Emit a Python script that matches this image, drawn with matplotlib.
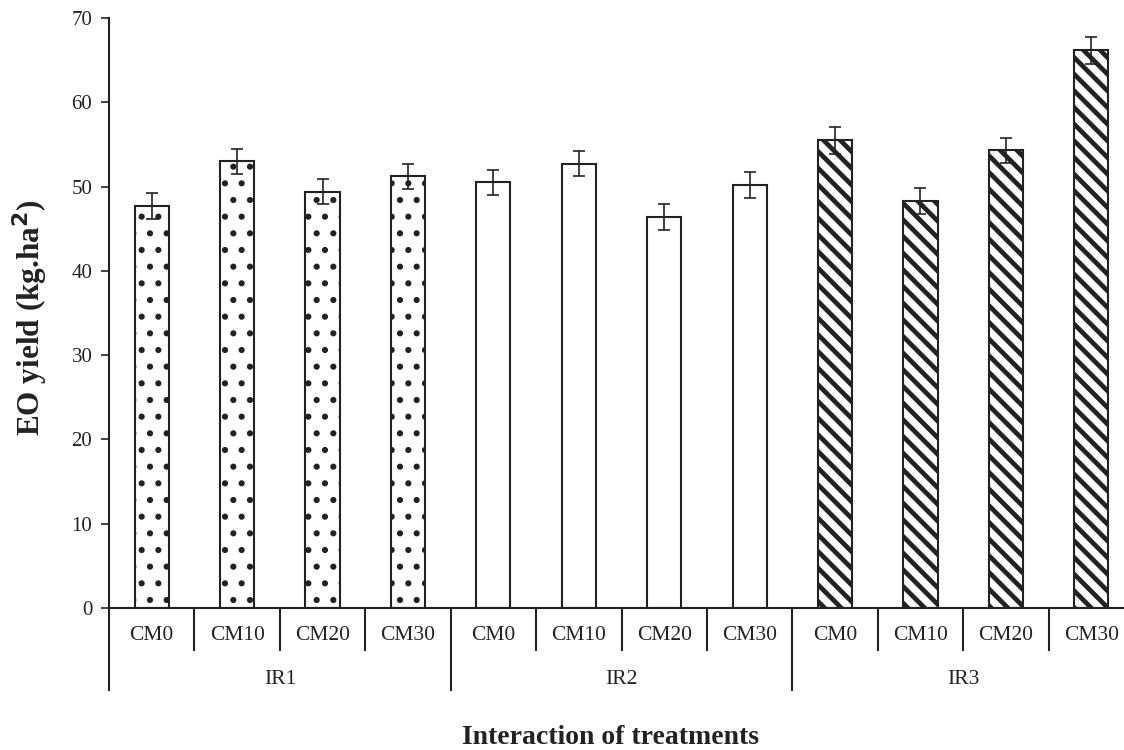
import numpy as np
import matplotlib.pyplot as plt
from matplotlib import transforms

plt.rcParams['font.family'] = ['Liberation Serif', 'DejaVu Serif']

# data
groups = ['IR1', 'IR2', 'IR3']
levels = ['CM0', 'CM10', 'CM20', 'CM30']
ir1 = [47.7, 53.0, 49.4, 51.2]
ir2 = [50.5, 52.7, 46.4, 50.2]
ir3 = [55.5, 48.3, 54.3, 66.2]
err1 = [1.5, 1.5, 1.5, 1.5]
err2 = [1.5, 1.5, 1.5, 1.5]
err3 = [1.6, 1.5, 1.5, 1.6]

W, H = 1124, 750
fig = plt.figure(figsize=(W / 100, H / 100), dpi=100)
# axes: left edge 109px, right edge past the image (1134px), y0 at 608px, y70 at 18px
ax = fig.add_axes([109 / W, (H - 608) / H, (1134 - 109) / W, (608 - 18) / H])

edge = '#222222'
series = [ir1, ir2, ir3]
errs = [err1, err2, err3]
hatches = ['.', '', '\\\\']
hatch_lw = [2.0, 1.0, 3.4]

for g in range(len(groups)):
    x = np.arange(len(levels)) + g * len(levels)
    plt.rcParams['hatch.linewidth'] = hatch_lw[g]
    bars = ax.bar(x, series[g], width=0.4, color='white', edgecolor=edge,
                  linewidth=1.5, hatch=hatches[g], zorder=2)
    for b in bars:
        if hasattr(b, 'set_hatch_linewidth'):
            b.set_hatch_linewidth(hatch_lw[g])
    ax.errorbar(x, series[g], yerr=errs[g], fmt='none', ecolor=edge,
                elinewidth=1.2, capsize=4, capthick=1.2, zorder=3)

n = len(groups) * len(levels)
ax.set_xlim(-0.5, n - 0.5)
ax.set_ylim(0, 70)
ax.set_yticks(np.arange(0, 71, 10))
ax.tick_params(axis='y', direction='out', length=6, width=1.2, labelsize=15,
               pad=6, colors=edge)
ax.set_xticks([])
for s in ['top', 'right']:
    ax.spines[s].set_visible(False)
ax.spines['left'].set_linewidth(1.5)
ax.spines['bottom'].set_linewidth(1.5)
ax.spines['left'].set_color(edge)
ax.spines['bottom'].set_color(edge)

# two-level category axis below the plot
trans = transforms.blended_transform_factory(ax.transData, fig.transFigure)
y_axis = (H - 608) / H
y_short = (H - 650) / H
y_long = (H - 690) / H
for i in range(n + 1):
    xb = i - 0.5
    bottom = y_long if i % len(levels) == 0 else y_short
    ax.plot([xb, xb], [y_axis, bottom], color=edge, lw=1.5,
            transform=trans, clip_on=False)

labels = levels * len(groups)
for i, lab in enumerate(labels):
    ax.text(i, (H - 636) / H, lab, transform=trans, ha='center', va='center',
            fontsize=15.5, color='#222222')
for g, name in enumerate(groups):
    xc = g * len(levels) + (len(levels) - 1) / 2
    ax.text(xc, (H - 680) / H, name, transform=trans, ha='center',
            va='center', fontsize=15.5, color='#222222')

fig.text(610 / W, (H - 738) / H, 'Interaction of treatments', ha='center',
         va='center', fontsize=20, fontweight='bold', color='#222222')
fig.text(30 / W, (H - 318) / H, 'EO yield (kg.ha$^\\mathbf{2}$)', ha='center',
         va='center', rotation=90, fontsize=22.5, fontweight='bold',
         color='#222222')

fig.savefig('out.png', dpi=100)
